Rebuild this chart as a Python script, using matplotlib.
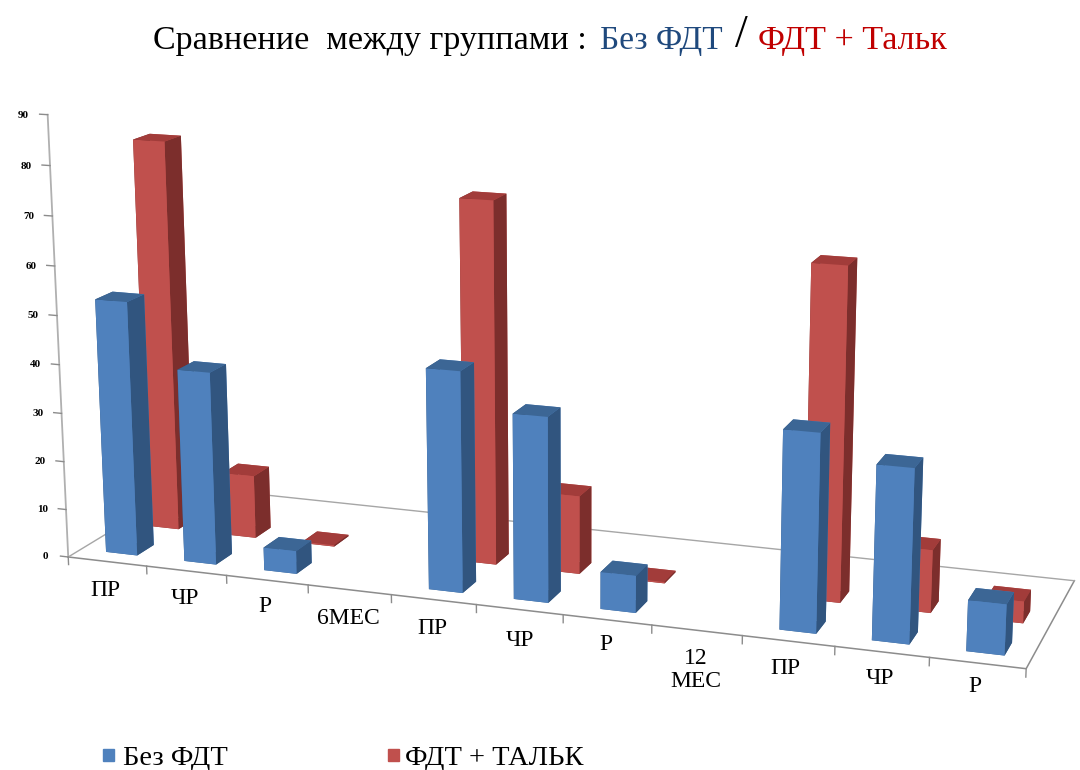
# Comparison of the two groups, 3D column chart
import numpy as np
import matplotlib
matplotlib.use("Agg")
from matplotlib import pyplot as plt
from matplotlib.patches import Rectangle
from mpl_toolkits.mplot3d import proj3d

plt.rcParams['font.family'] = ['Liberation Serif', 'DejaVu Serif']

categories = ["ПР", "ЧР", "Р", "6МЕС", "ПР", "ЧР", "Р", "12\nМЕС", "ПР", "ЧР", "Р"]
bez_fdt = [52.5, 39.6, 4.7, 0, 44.4, 37, 7.4, 0, 38.8, 33.8, 9.8]
fdt_talk = [81.5, 13.2, 0.3, 0, 74, 16, 0.3, 0, 66.2, 12.5, 4.3]
z_ticks = [0, 10, 20, 30, 40, 50, 60, 70, 80, 90]

# where the category labels sit, in pixels of the picture
label_x = [105, 185, 265, 348, 432, 520, 606, 696, 785, 880, 975]
label_y = [590, 598, 606, 619, 628, 640, 645, 670, 669, 678, 687]

W, H = 1080, 770
BLUE = ['#3a6390', '#3c6695', '#4f81bd', '#4f81bd', '#31557f', '#31557f']
RED = ['#8a3432', '#a23c3a', '#c0504d', '#c0504d', '#7c2e2c', '#7c2e2c']

fig = plt.figure(figsize=(W/100, H/100), dpi=100)
ax = fig.add_axes([0.00168, -0.18371, 1.01394, 1.42215], projection='3d', computed_zorder=False)
ax.set_xlim(0, 11)
ax.set_ylim(0, 1)
ax.set_zlim(0, 90)
ax.view_init(14.167, -70.592, 0.090)
ax.set_proj_type('persp', focal_length=0.4797)
ax.set_box_aspect((1, 0.2662, 0.4645))
ax.set_xticks([])
ax.set_yticks([])
ax.set_zticks([])
ax.set_axis_off()

# floor outline and z axis
edge = '#8c8c8c'
ax.plot([0, 11, 11], [0, 0, 1], [0, 0, 0], color=edge, lw=1.1, zorder=1)
ax.plot([11, 0, 0], [1, 1, 0], [0, 0, 0], color='#a6a6a6', lw=1, zorder=1)
ax.plot([0, 0], [0, 0], [0, 90], color='#b0b0b0', lw=1.3, zorder=1)
for z in z_ticks:
    ax.plot([-0.1, 0], [0, 0], [z, z], color=edge, lw=1, zorder=1)
for i in range(12):
    ax.plot([i, i], [0, 0], [0, -1.6], color=edge, lw=1, zorder=1)

# back row then front row, left to right
k = 2
for vals, cols, y0 in [(fdt_talk, RED, 0.46), (bez_fdt, BLUE, 0.105)]:
    for i, v in enumerate(vals):
        if v == 0:
            continue
        ax.bar3d(i+0.32, y0, 0, 0.4, 0.14, v, color=cols, shade=False, zorder=k)
        k += 1

# z tick labels, put on the figure at the projected spot of each tick
fig.canvas.draw()
for z in z_ticks:
    px, py, _ = proj3d.proj_transform(-0.3, 0, z-0.5, ax.get_proj())
    tx, ty = ax.transData.transform((px, py))
    fig.text(tx/W, ty/H, str(z), fontsize=8, fontweight='bold', ha='center', va='center')

# labels under the floor
for c, lx, ly in zip(categories, label_x, label_y):
    fig.text(lx/W, 1-ly/H, c, fontsize=17, ha='center', va='center', linespacing=1.15)

# title, three colours
fig.text(153/W, 1-49/H, "Сравнение  между группами :", fontsize=24.5, color='black', va='baseline')
fig.text(600/W, 1-49/H, "Без ФДТ", fontsize=24, color='#1f497d', va='baseline')
fig.text(735/W, 1-47/H, "/", fontsize=33, color='black', va='baseline')
fig.text(758/W, 1-49/H, "ФДТ + Тальк", fontsize=24.5, color='#c00000', va='baseline')

# legend
fig.add_artist(Rectangle((103/W, 1-761/H), 11/W, 12/H, transform=fig.transFigure, color='#4f81bd'))
fig.add_artist(Rectangle((388/W, 1-761/H), 11/W, 12/H, transform=fig.transFigure, color='#c0504d'))
fig.text(123/W, 1-765/H, "Без ФДТ", fontsize=20.5, va='baseline')
fig.text(405/W, 1-765/H, "ФДТ + ТАЛЬК", fontsize=20.5, va='baseline')

fig.savefig("out.png", dpi=100)
